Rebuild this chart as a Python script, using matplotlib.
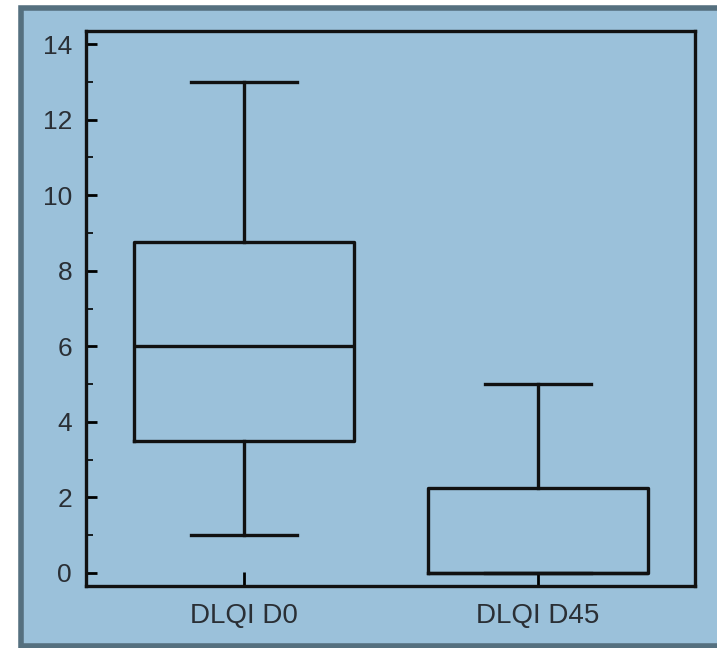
"""Boxplot DLQI D0 vs DLQI D45"""
import matplotlib
matplotlib.use('Agg')
import matplotlib.pyplot as plt
from matplotlib.patches import Rectangle
from matplotlib.ticker import MultipleLocator

# Estatísticas
grupos = ['DLQI D0', 'DLQI D45']
minimos = [1, 0]
q1 = [3.5, 0]
medianas = [6, 0]
q3 = [8.75, 2.25]
maximos = [13, 5]

plt.rcParams['font.family'] = ['Liberation Sans', 'DejaVu Sans']

fig = plt.figure(figsize=(7.17, 6.48), dpi=100)
fig.patch.set_facecolor('white')

# Painel azul com borda escura
fundo = '#9bc1da'
fig.patches.append(Rectangle((20.5 / 717, 1 - 645.5 / 648), 760 / 717, 638 / 648,
                             transform=fig.transFigure, facecolor=fundo,
                             edgecolor='#55707f', linewidth=4, zorder=-5))

ax = fig.add_axes([86 / 717, 1 - 586 / 648, (695 - 86) / 717, (586 - 31) / 648])
ax.set_facecolor(fundo)
ax.set_zorder(5)

stats = []
for nome, mn, a, m, b, mx in zip(grupos, minimos, q1, medianas, q3, maximos):
    stats.append({'label': nome, 'whislo': mn, 'q1': a, 'med': m,
                  'q3': b, 'whishi': mx, 'fliers': []})

estilo = dict(color='#111111', linewidth=2.4)
ax.bxp(stats, positions=[1, 2], widths=0.75, capwidths=0.36,
       showfliers=False, boxprops=estilo, whiskerprops=estilo,
       capprops=estilo, medianprops=estilo)

ax.set_xlim(0.463, 2.534)
ax.set_ylim(-0.35, 14.35)
ax.yaxis.set_major_locator(MultipleLocator(2))
ax.yaxis.set_minor_locator(MultipleLocator(1))

for lado in ax.spines.values():
    lado.set_linewidth(2.4)
    lado.set_color('#111111')

ax.tick_params(axis='y', which='major', direction='in', length=8, width=2,
               labelsize=19, labelcolor='#2a2f35', pad=10)
ax.tick_params(axis='y', which='minor', direction='in', length=5, width=1.2)
ax.tick_params(axis='x', which='major', direction='in', length=10, width=2,
               labelsize=20, labelcolor='#2a2f35', pad=12)

plt.savefig('out.png', dpi=100, facecolor=fig.get_facecolor())
